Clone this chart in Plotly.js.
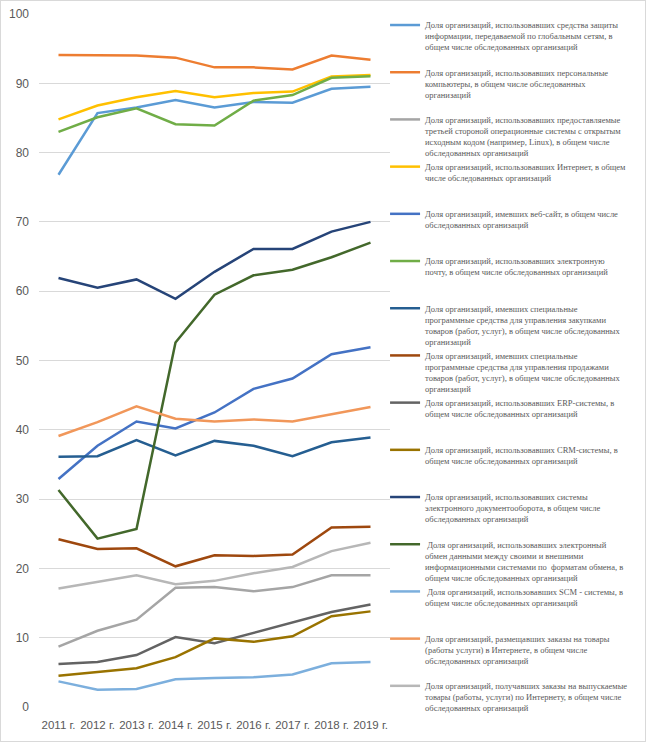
<!DOCTYPE html>
<html>
<head>
<meta charset="utf-8">
<script src="https://cdn.plot.ly/plotly-3.0.1.min.js"></script>
<style>
html,body{margin:0;padding:0;background:#fff;}
#chart{width:644px;height:740px;border:1px solid #d9d9d9;}
</style>
</head>
<body>
<div id="chart"></div>
<script>
const years = ["2011 г.","2012 г.","2013 г.","2014 г.","2015 г.","2016 г.","2017 г.","2018 г.","2019 г."];

const names = [
  "Доля организаций, использовавших средства защиты<br>информации, передаваемой по глобальным сетям, в<br>общем числе обследованных организаций",
  "Доля организаций, использовавших персональные<br>компьютеры, в общем числе обследованных<br>организаций",
  "Доля организаций, использовавших предоставляемые<br>третьей стороной операционные системы с открытым<br>исходным кодом (например, Linux), в общем числе<br>обследованных организаций",
  "Доля организаций, использовавших Интернет, в общем<br>числе обследованных организаций",
  "Доля организаций, имевших веб-сайт, в общем числе<br>обследованных организаций",
  "Доля организаций, использовавших электронную<br>почту, в общем числе обследованных организаций",
  "Доля организаций, имевших специальные<br>программные средства для управления закупками<br>товаров (работ, услуг), в общем числе обследованных<br>организаций",
  "Доля организаций, имевших специальные<br>программные средства для управления продажами<br>товаров (работ, услуг), в общем числе обследованных<br>организаций",
  "Доля организаций, использовавших ERP-системы, в<br>общем числе обследованных организаций",
  "Доля организаций, использовавших CRM-системы, в<br>общем числе обследованных организаций",
  "Доля организаций, использовавших системы<br>электронного документооборота, в общем числе<br>обследованных организаций",
  " Доля организаций, использовавших электронный<br>обмен данными между своими и внешними<br>информационными системами по  форматам обмена, в<br>общем числе обследованных организаций",
  " Доля организаций, использовавших SCM - системы, в<br>общем числе обследованных организаций",
  "Доля организаций, размещавших заказы на товары<br>(работы услуги) в Интернете, в общем числе<br>обследованных организаций",
  "Доля организаций, получавших заказы на выпускаемые<br>товары (работы, услуги) по Интернету, в общем числе<br>обследованных организаций"
];

const infoSecurity   = [76.8, 85.7, 86.5, 87.6, 86.5, 87.3, 87.2, 89.2, 89.5];
const computers      = [94.1, 94.0, 94.0, 93.7, 92.3, 92.3, 92.0, 94.0, 93.4];
const openSourceOS   = [8.7, 11.0, 12.6, 17.2, 17.3, 16.7, 17.3, 19.0, 19.0];
const internet       = [84.8, 86.8, 88.0, 88.9, 88.0, 88.6, 88.8, 91.0, 91.2];
const website        = [32.9, 37.7, 41.2, 40.2, 42.5, 45.9, 47.4, 50.9, 51.9];
const email          = [83.0, 85.1, 86.4, 84.1, 83.9, 87.5, 88.3, 90.8, 91.0];
const purchaseSoft   = [36.1, 36.2, 38.5, 36.3, 38.4, 37.7, 36.2, 38.2, 38.9];
const salesSoft      = [24.2, 22.8, 22.9, 20.3, 21.9, 21.8, 22.0, 25.9, 26.0];
const erp            = [6.2, 6.5, 7.5, 10.1, 9.2, 10.7, 12.2, 13.7, 14.8];
const crm            = [4.5, 5.0, 5.6, 7.2, 9.9, 9.4, 10.2, 13.1, 13.8];
const edo            = [61.9, 60.5, 61.7, 58.9, 62.8, 66.1, 66.1, 68.6, 70.0];
const edi            = [31.3, 24.3, 25.7, 52.6, 59.5, 62.3, 63.1, 64.9, 67.0];
const scm            = [3.7, 2.5, 2.6, 4.0, 4.2, 4.3, 4.7, 6.3, 6.5];
const ordersPlaced   = [39.1, 41.1, 43.4, 41.6, 41.2, 41.5, 41.2, 42.3, 43.3];
const ordersReceived = [17.1, 18.1, 19.0, 17.7, 18.2, 19.3, 20.2, 22.5, 23.7];

const series = [infoSecurity, computers, openSourceOS, internet, website, email,
  purchaseSoft, salesSoft, erp, crm, edo, edi, scm, ordersPlaced, ordersReceived];
const colors = ["#5B9BD5","#ED7D31","#A5A5A5","#FFC000","#4472C4","#70AD47",
  "#255E91","#9E480E","#636363","#997300","#264478","#43682B","#7CAFDD","#F1975A","#B7B7B7"];

function pad(n){
  const k = n.split("<br>").length;
  let s = n;
  for (let i=k;i<4;i++) s += "<br>&nbsp;";
  return s;
}

const traces = series.map((v,i)=>({
  x: years, y: v, type: "scatter", mode: "lines",
  name: pad(names[i]),
  line: {color: colors[i], width: 2.5}
}));

const W = 644, H = 740;
const ML = 38, MR = 251, MT = 13, MB = 34;
const PW = W - ML - MR, PH = H - MT - MB;
const layout = {
  width: W, height: H,
  margin: {l: ML, r: MR, t: MT, b: MB},
  paper_bgcolor: "#fff", plot_bgcolor: "#fff",
  showlegend: true,
  legend: {
    x: (388 - ML) / PW, xanchor: "left", y: 1 + 1 / PH, yanchor: "top",
    valign: "top", maxheight: 1,
    font: {family: "Liberation Serif", size: 8.5, color: "#595959"},
    bgcolor: "rgba(0,0,0,0)"
  },
  xaxis: {
    type: "category", range: [-0.5, 8.5],
    showgrid: false, showline: false, zeroline: false, ticks: "",
    ticklabelstandoff: 9,
    tickfont: {family: "Liberation Sans", size: 11.5, color: "#595959"}
  },
  yaxis: {
    range: [0, 100], dtick: 10, showline: false, zeroline: false, ticks: "",
    gridcolor: "#d9d9d9", gridwidth: 1, ticklabelstandoff: 9,
    tickfont: {family: "Liberation Sans", size: 12, color: "#595959"}
  }
};

Plotly.newPlot("chart", traces, layout, {displayModeBar: false, staticPlot: true});
</script>
</body>
</html>
